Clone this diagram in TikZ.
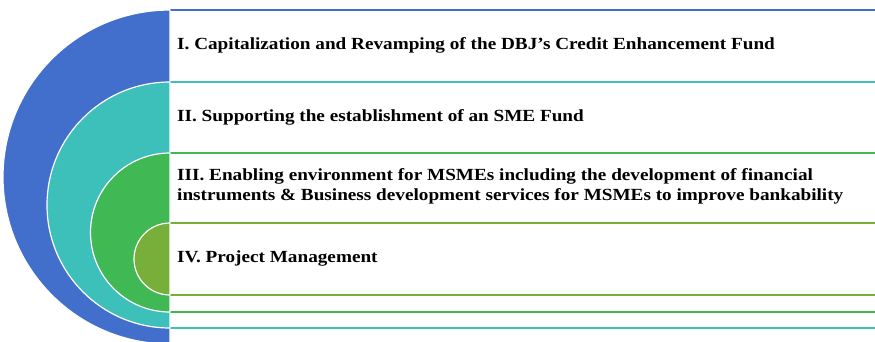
\documentclass[tikz,border=0pt]{standalone}
\usepackage{fontspec}
\setmainfont{Liberation Serif}[FakeStretch=1.13]
\definecolor{layerblue}{RGB}{66,110,204}
\definecolor{layerteal}{RGB}{62,192,186}
\definecolor{layergreen}{RGB}{64,184,84}
\definecolor{layerolive}{RGB}{120,174,58}

\begin{document}
\begin{tikzpicture}[x=1pt,y=-1pt,
    band/.style={line width=1.6pt},
    half/.style={draw=white,line width=1.2pt},
    item/.style={anchor=west,inner sep=0pt,align=left,
        font={\fontsize{17}{20}\selectfont\bfseries}},
    ]
    \useasboundingbox (0,0) rectangle (875,341);
    % layers, outermost first: top / bottom / colour
    \foreach \ya/\yb/\col in {10/344/layerblue,82/328/layerteal,
                              153/312/layergreen,223/295/layerolive}{
        \fill[white] (170,\ya) rectangle (876,\yb);
        \draw[band,\col] (170,\ya) -- (876,\ya) (170,\yb) -- (876,\yb);
        \path[half,fill=\col] (170,\ya)
            arc[start angle=-90,end angle=-270,radius={(\yb-\ya)/2}] -- cycle;
    }
    % Items
    \node[item] (capfund) at (177,45)
        {I. Capitalization and Revamping of the DBJ’s Credit Enhancement Fund};
    \node[item] (smefund) at (177,117)
        {II. Supporting the establishment of an SME Fund};
    \node[item] (msmeenv) at (177,186)
        {III. Enabling environment for MSMEs including the development of financial\\
         instruments \& Business development services for MSMEs to improve bankability};
    \node[item] (projmgmt) at (177,258) {IV. Project Management};
\end{tikzpicture}
\end{document}
